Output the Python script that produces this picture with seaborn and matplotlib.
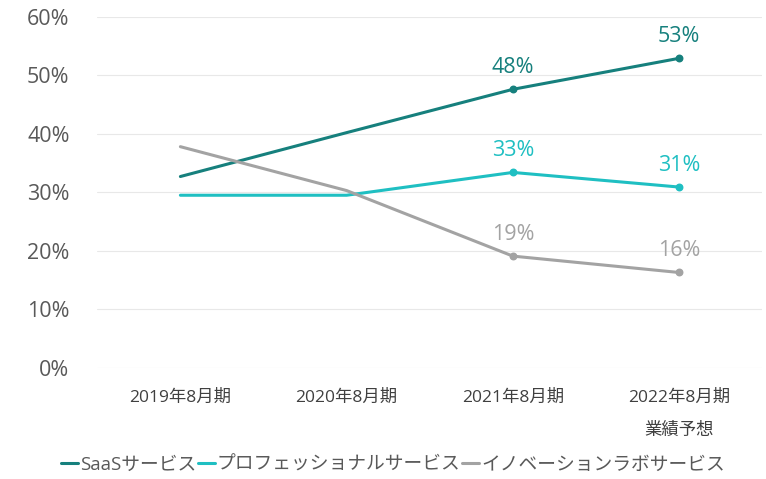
import pandas as pd
import numpy as np
import matplotlib.pyplot as plt
import seaborn as sns

sns.set_style('white')
plt.rcParams['font.family'] = ['Open Sans', 'Noto Sans CJK JP', 'DejaVu Sans']

# Data (%)
periods = ['2019年8月期', '2020年8月期', '2021年8月期', '2022年8月期\n業績予想']
saas = [32.7, 40.2, 47.6, 52.9]
professional = [29.5, 29.5, 33.4, 30.9]
innovation = [37.8, 30.3, 19.1, 16.3]
series_names = ['SaaSサービス', 'プロフェッショナルサービス', 'イノベーションラボサービス']
colors = ['#16807d', '#1fbfc2', '#a3a3a3']
label_values = {0: ['48%', '53%'], 1: ['33%', '31%'], 2: ['19%', '16%']}

df = pd.DataFrame({
    'period': periods * 3,
    'x': list(range(len(periods))) * 3,
    'value': saas + professional + innovation,
    'series': np.repeat(series_names, len(periods)),
})

fig, ax = plt.subplots(figsize=(7.66, 4.79), dpi=100)
sns.lineplot(data=df, x='x', y='value', hue='series', palette=colors,
             linewidth=2.2, ax=ax, legend=True)

# markers and labels only on the last two periods
for i, (name, color) in enumerate(zip(series_names, colors)):
    sub = df[df['series'] == name].iloc[2:]
    ax.scatter(sub['x'], sub['value'], color=color, s=22, zorder=3)
    for (xv, yv), txt in zip(sub[['x', 'value']].values, label_values[i]):
        ax.text(xv, yv + 1.9, txt, color=color, fontsize=15.5, ha='center', va='bottom')

ax.set_xlim(-0.5, 3.5)
ax.set_ylim(0, 60)
ax.set_yticks(range(0, 61, 10))
ax.set_yticklabels([f'{v}%' for v in range(0, 61, 10)], fontsize=15.5, color='#595959')
ax.set_xticks(range(len(periods)))
ax.set_xticklabels(periods, fontsize=12.5, color='#404040', linespacing=2.4)
ax.tick_params(axis='x', length=0, pad=16)
ax.tick_params(axis='y', length=0, pad=20)
ax.grid(axis='y', color='#e8e8e8', linewidth=0.8)
for s in ax.spines.values():
    s.set_visible(False)
ax.set_xlabel('')
ax.set_ylabel('')

handles, labels = ax.get_legend_handles_labels()
ax.get_legend().remove()
fig.legend(handles, labels, loc='center', bbox_to_anchor=(0.513, 0.03), ncol=3,
           frameon=False, fontsize=13.5, handlelength=0.9, handletextpad=0.1,
           columnspacing=0.1, labelcolor='#595959')

plt.subplots_adjust(left=0.127, right=0.995, top=0.965, bottom=0.232)
plt.savefig('out.png', dpi=100)
